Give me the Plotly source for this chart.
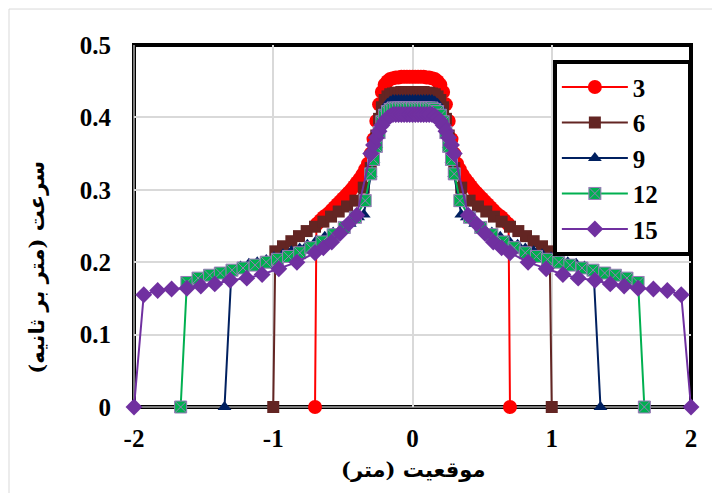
import plotly.graph_objects as go

# Half profiles (x >= 0); the measured profiles are symmetric about x = 0
series_names = ["3", "6", "9", "12", "15"]
series_colors = ["#FF0000", "#632523", "#002060", "#00B050", "#7030A0"]

red_x_half = [0.00, 0.02, 0.04, 0.06, 0.08, 0.10, 0.12, 0.14, 0.16, 0.18, 0.20, 0.22,
              0.24, 0.26, 0.28, 0.30, 0.32, 0.34, 0.36, 0.38, 0.40, 0.42, 0.44, 0.46,
              0.48, 0.50, 0.52, 0.54, 0.56, 0.58, 0.60, 0.62, 0.64, 0.66, 0.68, 0.69, 0.70]
red_y_half = [0.456, 0.456, 0.456, 0.456, 0.456, 0.455, 0.455, 0.454, 0.453, 0.450, 0.445, 0.435,
              0.418, 0.395, 0.370, 0.350, 0.336, 0.328, 0.321, 0.315, 0.310, 0.305, 0.300, 0.296,
              0.292, 0.288, 0.284, 0.280, 0.276, 0.272, 0.268, 0.265, 0.262, 0.258, 0.254, 0.252, 0.0]

brown_x_half = [0.00, 0.02, 0.04, 0.06, 0.08, 0.10, 0.12, 0.14, 0.16, 0.18, 0.20, 0.22, 0.24,
                0.26, 0.28, 0.30, 0.35, 0.41, 0.47, 0.53, 0.585, 0.64, 0.70, 0.76, 0.815, 0.87,
                0.93, 0.985, 1.0]
brown_y_half = [0.435, 0.435, 0.435, 0.435, 0.435, 0.434, 0.434, 0.433, 0.432, 0.429, 0.424, 0.414,
                0.398, 0.375, 0.350, 0.330, 0.303, 0.285, 0.277, 0.270, 0.263, 0.256, 0.249, 0.243,
                0.236, 0.229, 0.222, 0.215, 0.0]

blue_x_half = [0.00, 0.02, 0.04, 0.06, 0.08, 0.10, 0.12, 0.14, 0.16, 0.18, 0.20, 0.22, 0.24, 0.26,
               0.28, 0.30, 0.35, 0.39, 0.45, 0.51, 0.57, 0.63, 0.69, 0.755, 0.81, 0.87, 0.93, 0.995,
               1.05, 1.115, 1.175, 1.235, 1.30, 1.35]
blue_y_half = [0.424, 0.424, 0.424, 0.424, 0.424, 0.424, 0.424, 0.424, 0.422, 0.419, 0.413, 0.401,
               0.383, 0.362, 0.342, 0.322, 0.266, 0.262, 0.253, 0.247, 0.241, 0.235, 0.230, 0.224,
               0.219, 0.215, 0.211, 0.207, 0.203, 0.200, 0.198, 0.194, 0.188, 0.0]

green_x_half = [0.00, 0.02, 0.04, 0.06, 0.08, 0.10, 0.12, 0.14, 0.16, 0.18, 0.20, 0.22, 0.24, 0.26,
                0.28, 0.30, 0.34, 0.41, 0.49, 0.57, 0.65, 0.73, 0.81, 0.89, 0.97, 1.05, 1.13, 1.217,
                1.296, 1.38, 1.457, 1.54, 1.62, 1.665]
green_y_half = [0.413, 0.413, 0.413, 0.413, 0.413, 0.413, 0.413, 0.413, 0.411, 0.408, 0.403, 0.394,
                0.379, 0.360, 0.342, 0.322, 0.285, 0.262, 0.248, 0.238, 0.228, 0.220, 0.213, 0.208,
                0.204, 0.200, 0.196, 0.192, 0.189, 0.185, 0.182, 0.178, 0.172, 0.0]

purple_x_half = [0.00, 0.02, 0.04, 0.06, 0.08, 0.10, 0.12, 0.14, 0.16, 0.18, 0.20, 0.22, 0.24, 0.26,
                 0.28, 0.30, 0.40, 0.46, 0.52, 0.58, 0.64, 0.70, 0.83, 0.96, 1.08, 1.19, 1.31, 1.42,
                 1.52, 1.62, 1.73, 1.83, 1.93, 2.0]
purple_y_half = [0.404, 0.404, 0.404, 0.404, 0.404, 0.404, 0.404, 0.404, 0.402, 0.399, 0.395, 0.389,
                 0.381, 0.372, 0.362, 0.350, 0.265, 0.253, 0.240, 0.228, 0.220, 0.213, 0.200, 0.191,
                 0.183, 0.178, 0.175, 0.170, 0.167, 0.164, 0.163, 0.161, 0.155, 0.0]

x_tick_vals = [-2, -1, 0, 1, 2]
x_tick_text = ["-2", "-1", "0", "1", "2"]
y_tick_vals = [0, 0.1, 0.2, 0.3, 0.4, 0.5]
y_tick_text = ["0", "0.1", "0.2", "0.3", "0.4", "0.5"]

x_title = "موقعیت (متر)"
y_title = "سرعت (متر بر ثانیه)"


def mirror(xh, yh):
    xs = [-v for v in reversed(xh[1:])] + list(xh)
    ys = list(reversed(yh[1:])) + list(yh)
    return xs, ys


halves = [(red_x_half, red_y_half), (brown_x_half, brown_y_half), (blue_x_half, blue_y_half),
          (green_x_half, green_y_half), (purple_x_half, purple_y_half)]
symbols = ["circle", "square", "triangle-up", "square-x", "diamond"]
sizes = [14, 12, 12, 12, 13]
mline = [dict(width=0), dict(width=0), dict(width=0), dict(width=1, color="#9A7AB8"), dict(width=0)]

fig = go.Figure()
for name, col, (xh, yh), sym, sz, ml in zip(series_names, series_colors, halves, symbols, sizes, mline):
    xs, ys = mirror(xh, yh)
    fig.add_trace(go.Scatter(
        x=xs, y=ys, name=name + "\u00a0\u00a0\u00a0\u00a0", mode="lines+markers",
        line=dict(color=col, width=2),
        marker=dict(symbol=sym, size=sz, color=col, line=ml),
        cliponaxis=False,
    ))

tick_font = dict(family="Liberation Serif, Times New Roman, serif", size=25, color="black", weight="bold")
title_font = dict(family="DejaVu Serif, DejaVu Sans, serif", size=21, color="black", weight="bold")

fig.update_layout(
    width=712, height=485,
    margin=dict(l=126, r=29, t=37, b=86, autoexpand=False),
    paper_bgcolor="white", plot_bgcolor="white",
    showlegend=True,
    legend=dict(
        x=0.752, y=0.958, xanchor="left", yanchor="top",
        bgcolor="white", bordercolor="black", borderwidth=4,
        font=dict(family="Liberation Serif, Times New Roman, serif", size=25, color="black", weight="bold"),
        itemwidth=66,
    ),
    xaxis=dict(range=[-2, 2], tickvals=x_tick_vals, ticktext=x_tick_text,
               showgrid=True, gridcolor="#D9D9D9", gridwidth=2, zeroline=False,
               showline=False, ticks="", tickfont=tick_font, ticklabelstandoff=14),
    yaxis=dict(range=[0, 0.5], tickvals=y_tick_vals, ticktext=y_tick_text,
               showgrid=True, gridcolor="#D9D9D9", gridwidth=2, zeroline=False,
               showline=False, ticks="", tickfont=tick_font, ticklabelstandoff=22),
    annotations=[
        dict(text=x_title, xref="paper", yref="paper", x=0.5, y=-0.174,
             xanchor="center", yanchor="middle", showarrow=False, font=title_font),
        dict(text=y_title, xref="paper", yref="paper", x=-0.174, y=0.385,
             xanchor="center", yanchor="middle", showarrow=False, textangle=-90, font=title_font),
    ],
    shapes=[
        dict(type="rect", xref="paper", yref="paper", x0=0, y0=0, x1=1, y1=1,
             line=dict(color="black", width=4), layer="between"),
        dict(type="line", xref="paper", yref="paper", x0=0, y0=0, x1=0, y1=1,
             line=dict(color="#A6A6A6", width=1.5), layer="between"),
        dict(type="line", xref="paper", yref="paper", x0=0, y0=0, x1=1, y1=0,
             line=dict(color="#A6A6A6", width=1.5), layer="between"),
        dict(type="line", xref="paper", yref="paper", x0=-0.2244, y0=1.0994, x1=1.06, y1=1.0994,
             line=dict(color="#D9D9D9", width=1)),
        dict(type="line", xref="paper", yref="paper", x0=-0.2244, y0=1.0994, x1=-0.2244, y1=-0.25,
             line=dict(color="#D9D9D9", width=1)),
    ],
)

fig.write_html("out.html")
